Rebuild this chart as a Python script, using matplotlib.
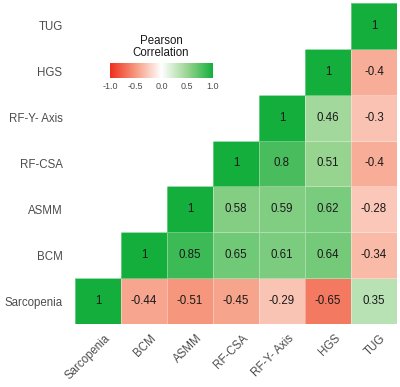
import numpy as np
import matplotlib
matplotlib.use("Agg")
import matplotlib.pyplot as plt
import matplotlib.transforms as mtransforms
from matplotlib.colors import LinearSegmentedColormap

plt.rcParams['font.family'] = ['Liberation Sans', 'DejaVu Sans']

labels = ["Sarcopenia", "BCM", "ASMM", "RF-CSA", "RF-Y- Axis", "HGS", "TUG"]
# upper triangle rows (row variable vs following variables)
r_sarcopenia = [1, -0.44, -0.51, -0.45, -0.29, -0.65, 0.35]
r_bcm = [1, 0.85, 0.65, 0.61, 0.64, -0.34]
r_asmm = [1, 0.58, 0.59, 0.62, -0.28]
r_rfcsa = [1, 0.8, 0.51, -0.4]
r_rfy = [1, 0.46, -0.3]
r_hgs = [1, -0.4]
r_tug = [1]
rows = [r_sarcopenia, r_bcm, r_asmm, r_rfcsa, r_rfy, r_hgs, r_tug]
cbar_ticks = [-1.0, -0.5, 0.0, 0.5, 1.0]

n = len(labels)
M = np.full((n, n), np.nan)
for i, r in enumerate(rows):
    for k, v in enumerate(r):
        M[i, i + k] = v

cmap = LinearSegmentedColormap.from_list(
    "rg", [(0.0, "#EE2E1C"), (0.25, "#F69A80"), (0.5, "#FFFFFF"),
           (0.75, "#9AD592"), (1.0, "#14AE3C")])

fig = plt.figure(figsize=(4.0, 3.87), dpi=100)
ax = fig.add_axes([75/400, 1 - 324/387, 322/400, 321/387])
mesh = ax.pcolormesh(np.arange(n + 1), np.arange(n + 1), np.ma.masked_invalid(M),
                     cmap=cmap, vmin=-1, vmax=1, edgecolor=(1, 1, 1, 0.35), linewidth=0.5)
for i in range(n):
    for j in range(n):
        if not np.isnan(M[i, j]):
            ax.text(j + 0.5, i + 0.5, "{:g}".format(M[i, j]), ha="center", va="center",
                    fontsize=8.3, color="#1a1a1a")
ax.set_xlim(0, n)
ax.set_ylim(0, n)
ax.set_xticks(np.arange(n) + 0.5)
ax.set_yticks(np.arange(n) + 0.5)
ax.set_yticklabels(labels, fontsize=8.3, color="#4D4D4D")
ax.set_xticklabels(labels, fontsize=8.3, color="#4D4D4D", rotation=45,
                   ha="right", va="top", rotation_mode="anchor")
ax.tick_params(length=0, pad=9)
ax.tick_params(axis="x", pad=6)
off = mtransforms.ScaledTranslation(6/100, 0, fig.dpi_scale_trans)
for lab in ax.get_xticklabels():
    lab.set_transform(lab.get_transform() + off)
for s in ax.spines.values():
    s.set_visible(False)

cax = fig.add_axes([110/400, 1 - 78/387, 103/400, 15/387])
cb = fig.colorbar(mesh, cax=cax, orientation="horizontal", ticks=cbar_ticks)
cb.outline.set_visible(False)
cax.tick_params(length=0, labelsize=6.5, labelcolor="#4D4D4D", pad=3)
cax.set_xticklabels(["{:.1f}".format(t) for t in cbar_ticks])
fig.text(161/400, 1 - 47/387, "Pearson\nCorrelation", ha="center", va="center",
         fontsize=8.3, color="#1a1a1a", linespacing=1.0)

fig.savefig("out.png", dpi=100)
